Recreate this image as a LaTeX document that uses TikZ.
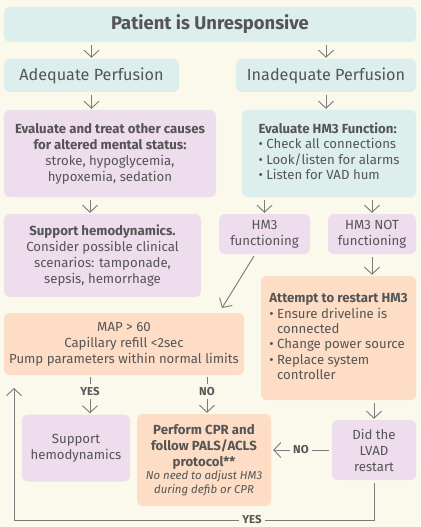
\documentclass[tikz,border=0pt]{standalone}
\usepackage{fontspec}
\setmainfont{Fira Sans}
\usetikzlibrary{arrows.meta}
\definecolor{bg}{HTML}{FBF8EC}
\definecolor{blu}{HTML}{DDEFEC}
\definecolor{pnk}{HTML}{EEDDED}
\definecolor{org}{HTML}{FDDDC6}
\definecolor{txt}{HTML}{555555}
\definecolor{ln}{HTML}{7A7A7A}
\newcommand{\smit}[1]{\textit{\fontsize{11.5}{14.5}\selectfont #1}}
\begin{document}
\begin{tikzpicture}[x=1bp,y=-1bp,
  box/.style={rounded corners=6bp, inner sep=0pt, align=center, text=txt,
    font=\fontsize{13.25}{16}\selectfont},
  arr/.style={draw=ln, line width=0.9bp, -{Straight Barb[length=7bp,width=15bp]}},
  lbl/.style={fill=bg, inner sep=3bp, text=txt, font=\bfseries\fontsize{11.5}{12}\selectfont}
]
\fill[bg] (0,0) rectangle (420,527);
\useasboundingbox (0,0) rectangle (420,527);

% row 1
\node[box, fill=blu, minimum width=412bp, minimum height=35bp] (t) at (210,24.5)
  {\textbf{\fontsize{18.5}{20}\selectfont Patient is Unresponsive}};
% row 2
\node[box, fill=blu, minimum width=175bp, minimum height=33bp] (ad) at (91.5,75.5)
  {{\fontsize{16.25}{18}\selectfont Adequate Perfusion}};
\node[box, fill=blu, minimum width=180bp, minimum height=33bp] (in) at (326,75.5)
  {{\fontsize{16.25}{18}\selectfont Inadequate Perfusion}};
% row 3
\node[box, fill=pnk, minimum width=212bp, minimum height=87bp] (ev) at (110,153.5)
  {\textbf{Evaluate and treat other causes}\\ \textbf{for altered mental status:}\\
   stroke, hypoglycemia,\\ hypoxemia, sedation};
\node[box, fill=blu, minimum width=174bp, minimum height=87bp] (hm) at (329,153.5)
  {\begin{tabular}{@{}l@{}}\textbf{Evaluate HM3 Function:}\\[-0.5pt]
   \textbullet\ Check all connections\\[-0.5pt]
   \textbullet\ Look/listen for alarms\\[-0.5pt]
   \textbullet\ Listen for VAD hum\end{tabular}};
% row 4
\node[box, fill=pnk, minimum width=197bp, minimum height=83bp] (sh) at (102.5,255.5)
  {\textbf{Support hemodynamics.}\\ Consider possible clinical\\ scenarios: tamponade,\\ sepsis, hemorrhage};
\node[box, fill=pnk, minimum width=91bp, minimum height=40bp] (hf) at (264.5,234)
  {HM3\\ functioning};
\node[box, fill=pnk, minimum width=88bp, minimum height=40bp] (hn) at (372,234)
  {HM3 NOT\\ functioning};
% attempt restart
\node[box, fill=org, minimum width=155bp, minimum height=124bp] (at) at (338.5,338)
  {\begin{tabular}{@{}l@{}}\textbf{Attempt to restart HM3}\\[-0.5pt]
   \textbullet\ Ensure driveline is\\[-0.5pt]
   \phantom{\textbullet\ }connected\\[-0.5pt]
   \textbullet\ Change power source\\[-0.5pt]
   \textbullet\ Replace system\\[-0.5pt]
   \phantom{\textbullet\ }controller\end{tabular}};
% MAP
\node[box, fill=org, minimum width=240bp, minimum height=62bp] (mp) at (124,344)
  {MAP > 60\\ Capillary refill <2sec\\ Pump parameters within normal limits};
% bottom row
\node[box, fill=pnk, minimum width=108bp, minimum height=67bp] (s2) at (76,448)
  {Support\\ hemodynamics};
\node[box, fill=org, minimum width=134bp, minimum height=92bp] (cp) at (204,460)
  {\textbf{Perform CPR and}\\ \textbf{follow PALS/ACLS}\\ \textbf{protocol**}\\[-3pt]
   \smit{No need to adjust HM3}\\[-2pt] \smit{during defib or CPR}};
\node[box, fill=pnk, minimum width=84bp, minimum height=60bp] (lv) at (374,450)
  {Did the\\ LVAD\\ restart};

% helper coordinates
\coordinate (yx) at (90,0);
\coordinate (nx) at (207,0);
\coordinate (d1) at (254,256);
\coordinate (d2) at (222,308);
\coordinate (lx) at (14,0);
\coordinate (ly) at (0,520);
\coordinate (up) at (14,388);

% arrows
\draw[arr] ([yshift=-3bp]t.south -| ad.north) -- ([yshift=1bp]ad.north);
\draw[arr] ([yshift=-3bp]t.south -| in.north) -- ([yshift=1bp]in.north);
\draw[arr] ([yshift=-3bp]ad.south) -- ([yshift=1bp]ad.south |- ev.north);
\draw[arr] ([yshift=-3bp]in.south) -- ([yshift=1bp]in.south |- hm.north);
\draw[arr] ([yshift=-3bp]ev.south -| yx) -- ([yshift=1bp]yx |- sh.north);
\draw[arr] ([yshift=-3bp]hm.south -| hf.north) -- ([yshift=1bp]hf.north);
\draw[arr] ([yshift=-3bp]hm.south -| hn.north) -- ([yshift=1bp]hn.north);
\draw[arr] ([yshift=-3bp]hn.south) -- ([yshift=1bp]hn.south |- at.north);
\draw[arr] (d1) -- (d2);
\draw[arr] ([yshift=-3bp]at.south -| lv.north) -- ([yshift=1bp]lv.north);
\draw[arr] ([yshift=-2bp]mp.south -| yx) -- node[lbl, pos=0.4]{YES} ([yshift=1bp]yx |- s2.north);
\draw[arr] ([yshift=-2bp]mp.south -| nx) -- node[lbl, pos=0.4]{NO} ([yshift=1bp]nx |- cp.north);
\draw[arr] ([xshift=-3bp]lv.west) -- node[lbl]{NO} ([xshift=2bp]cp.east |- lv.west);
\draw[arr] ([yshift=-3bp]lv.south) -- (lv.south |- ly) -- (lx |- ly) -- (up);
\node[lbl, inner xsep=3bp, inner ysep=1bp] (yl) at (252,520) {YES};
\end{tikzpicture}
\end{document}
